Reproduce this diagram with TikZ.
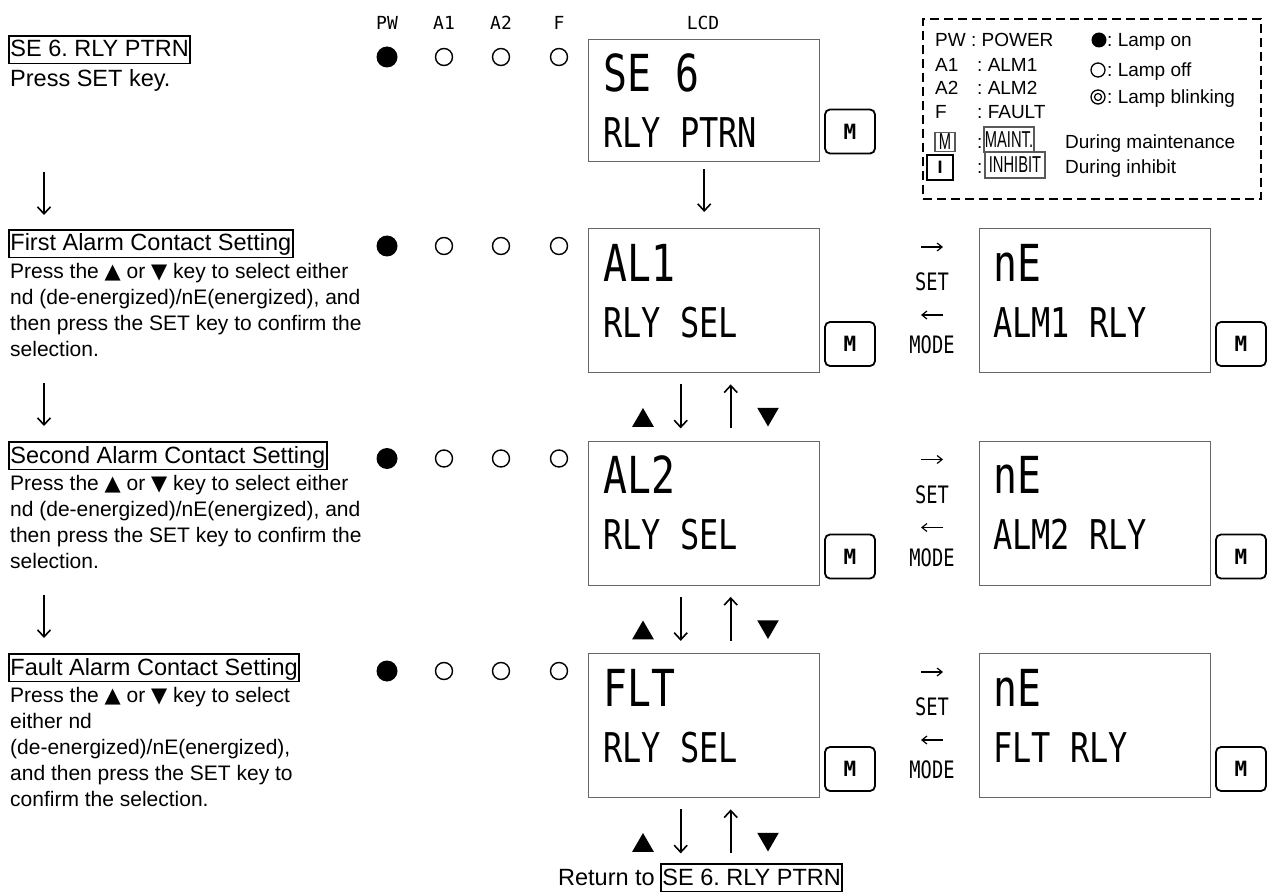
\documentclass[tikz,border=0pt]{standalone}
\usepackage{fontspec}
\setmainfont{Liberation Sans}
\newfontfamily\lcdf[FakeStretch=0.78]{DejaVu Sans Mono}
\newfontfamily\lcdw{DejaVu Sans Mono}
\newfontfamily\symf{DejaVu Sans}
\newfontfamily\narrowf[FakeStretch=0.64]{Liberation Sans}
\usetikzlibrary{arrows.meta,shapes.geometric}
\frenchspacing
\begin{document}
\begin{tikzpicture}[x=1pt,y=-1pt]
\tikzset{
 ttl/.style={draw, line width=1.8pt, inner xsep=1.5pt, inner ysep=2pt, text height=19pt, text depth=4.5pt, font=\fontsize{23.5}{28}\selectfont, anchor=base west},
 plain/.style={anchor=base west, inner sep=0pt, font=\fontsize{23.5}{28}\selectfont},
 desc/.style={anchor=north west, inner sep=0pt, align=left, font=\fontsize{21}{26}\selectfont},
 lcdbox/.style={draw=black!60, line width=1.4pt, minimum width=231pt, minimum height=144pt, anchor=north west, inner sep=0pt},
 lcdbig/.style={anchor=base west, inner sep=0pt, font=\lcdf\fontsize{51}{51}\selectfont},
 lcdsmall/.style={anchor=base west, inner sep=0pt, font=\lcdf\fontsize{41}{41}\selectfont},
 mkey/.style={draw, line width=1.8pt, rounded corners=5pt, minimum width=50pt, minimum height=44pt, inner sep=0pt, font=\lcdw\bfseries\fontsize{21}{21}\selectfont},
 lampon/.style={circle, fill, minimum size=21pt, inner sep=0pt},
 lampoff/.style={circle, draw, line width=1.4pt, minimum size=17pt, inner sep=0pt},
 varrow/.style={line width=1.6pt, -{Straight Barb[length=7pt,width=13pt]}},
 harrow/.style={line width=1.2pt, -{Straight Barb[length=5pt,width=8pt]}},
 hdr/.style={font=\lcdw\fontsize{18}{18}\selectfont, inner sep=0pt},
 keylab/.style={font=\lcdf\fontsize{24}{24}\selectfont, inner sep=0pt},
 triup/.style={regular polygon, regular polygon sides=3, fill, minimum size=25pt, inner sep=0pt},
 tridown/.style={triup, shape border rotate=180},
 leg/.style={font=\fontsize{19}{19}\selectfont, anchor=base west, inner sep=0pt},
 legbox/.style={draw=black!65, line width=1.2pt, inner sep=0pt, font=\narrowf\fontsize{23}{23}\selectfont},
}
\useasboundingbox[fill=white] (0,0) rectangle (1271,893);

% ---------------- left column ----------------
\node[ttl] (t1) at (8,57) {SE 6. RLY PTRN};
\node[plain] (d1) at (10,87) {Press SET key.};
\coordinate (a1s) at (44,172); \coordinate (a1e) at (44,215);
\draw[varrow] (a1s) -- (a1e);

\node[ttl] (t2) at (8,251) {First Alarm Contact Setting};
\node[desc] (d2) at (10,263) {Press the {\symf ▲} or {\symf ▼} key to select either\\nd (de-energized)/nE(energized), and\\then press the SET key to confirm the\\selection.};
\coordinate (a2s) at (44,383); \coordinate (a2e) at (44,426);
\draw[varrow] (a2s) -- (a2e);

\node[ttl] (t3) at (8,463) {Second Alarm Contact Setting};
\node[desc] (d3) at (10,475) {Press the {\symf ▲} or {\symf ▼} key to select either\\nd (de-energized)/nE(energized), and\\then press the SET key to confirm the\\selection.};
\coordinate (a3s) at (44,595); \coordinate (a3e) at (44,638);
\draw[varrow] (a3s) -- (a3e);

\node[ttl] (t4) at (8,675) {Fault Alarm Contact Setting};
\node[desc] (d4) at (10,687) {Press the {\symf ▲} or {\symf ▼} key to select\\either nd\\(de-energized)/nE(energized),\\and then press the SET key to\\confirm the selection.};

% ---------------- headers ----------------
\node[hdr] (hpw) at (387,23) {PW};
\node[hdr] (ha1) at (444,23) {A1};
\node[hdr] (ha2) at (501,23) {A2};
\node[hdr] (hf) at (559,23) {F};
\node[hdr] (hlcd) at (703,23) {LCD};

% ---------------- top LCD ----------------
\node[lcdbox, minimum height=122pt] (L0) at (588,39) {};
\node[lcdbig] (L0a) at (603,92) {SE 6};
\node[lcdsmall] (L0b) at (603,148) {RLY PTRN};
\node[mkey] (ML0) at (850,131.5) {M};
\node[lampon] (pw0) at (387,57) {};
\node[lampoff] (al0) at (444,57) {};
\node[lampoff] (bl0) at (501,57) {};
\node[lampoff] (fl0) at (559,57) {};
\node[lcdbox] (L1) at (588,228) {};
\draw[varrow] ([yshift=-7pt]L0.south) -- ([yshift=16pt]L1.north);

% ---------------- rows ----------------
\foreach \k/\yt/\la/\lb/\rb in {1/228/AL1/RLY SEL/ALM1 RLY, 2/440.5/AL2/RLY SEL/ALM2 RLY, 3/653/FLT/RLY SEL/FLT RLY} {
  \node[lcdbox] (L\k) at (588,\yt) {};
  \node[lcdbig] (L\k a) at (603,\yt+53) {\la};
  \node[lcdsmall] (L\k b) at (603,\yt+109) {\lb};
  \node[mkey] (ML\k) at (850,\yt+116) {M};
  \node[lcdbox] (R\k) at (979,\yt) {};
  \node[lcdbig] (R\k a) at (993,\yt+53) {nE};
  \node[lcdsmall] (R\k b) at (993,\yt+109) {\rb};
  \node[mkey] (MR\k) at (1241,\yt+116) {M};
  \node[lampon] (pw\k) at (387,\yt+18) {};
  \node[lampoff] (al\k) at (444,\yt+18) {};
  \node[lampoff] (bl\k) at (501,\yt+18) {};
  \node[lampoff] (fl\k) at (559,\yt+18) {};
  \coordinate (sa\k) at (921,\yt+19); \coordinate (sb\k) at (943,\yt+19);
  \draw[harrow] (sa\k) -- (sb\k);
  \node[keylab] (set\k) at (932,\yt+54) {SET};
  \coordinate (ma\k) at (943,\yt+87); \coordinate (mb\k) at (921,\yt+87);
  \draw[harrow] (ma\k) -- (mb\k);
  \node[keylab] (mode\k) at (932,\yt+117) {MODE};
  \draw[varrow] ([xshift=-23.5pt,yshift=-11pt]L\k.south) -- ++(0,44);
  \draw[varrow] ([xshift=26.5pt,yshift=-55pt]L\k.south) -- ++(0,-44);
  \node[triup] (up\k) at (643,\yt+192.5) {};
  \node[tridown] (dn\k) at (768,\yt+186) {};
}

% ---------------- return ----------------
\node[anchor=base east, inner sep=0pt, font=\fontsize{23.5}{28}\selectfont] (rt) at (655,885) {Return to};
\node[ttl] (ret) at (660,885) {SE 6. RLY PTRN};

% ---------------- legend ----------------
\node[draw, line width=1.8pt, dash pattern=on 9pt off 5pt, minimum width=338pt, minimum height=180pt, anchor=north west, inner sep=0pt] (legend) at (922,18) {};
\node[leg] (lpw) at (935,47) {PW : POWER};
\node[leg] (la1) at (935,72) {A1};
\node[leg] (la1v) at (977,72) {: ALM1};
\node[leg] (la2) at (935,95) {A2};
\node[leg] (la2v) at (977,95) {: ALM2};
\node[leg] (lf) at (935,119) {F};
\node[leg] (lfv) at (977,119) {: FAULT};
\node[legbox, minimum width=20pt, minimum height=19pt] (lm) at (945,142) {M};
\node[leg] (lmc) at (977,149) {:};
\node[legbox, minimum width=50pt, minimum height=25pt] (lmaint) at (1009,139.5) {MAINT.};
\node[leg] (lmd) at (1065,149) {During maintenance};
\node[draw, line width=2.2pt, minimum width=26pt, minimum height=25pt, inner sep=0pt, font=\fontsize{18}{18}\selectfont\bfseries] (li) at (940,167.5) {I};
\node[leg] (lic) at (977,174) {:};
\node[legbox, minimum width=60pt, minimum height=26pt] (linh) at (1015,165) {INHIBIT};
\node[leg] (lid) at (1065,174) {During inhibit};
\node[circle, fill, minimum size=15pt, inner sep=0pt] (son) at (1099,40) {};
\node[leg] (lon) at (1107,47) {: Lamp on};
\node[circle, draw, line width=1.3pt, minimum size=14pt, inner sep=0pt] (soff) at (1098,70) {};
\node[leg] (loff) at (1107,77) {: Lamp off};
\node[circle, draw, line width=1.3pt, minimum size=14pt, inner sep=0pt] (sbl) at (1098,97) {};
\node[circle, draw, line width=1.2pt, minimum size=7pt, inner sep=0pt] (sbli) at (1098,97) {};
\node[leg] (lbl) at (1107,104) {: Lamp blinking};
\end{tikzpicture}
\end{document}
